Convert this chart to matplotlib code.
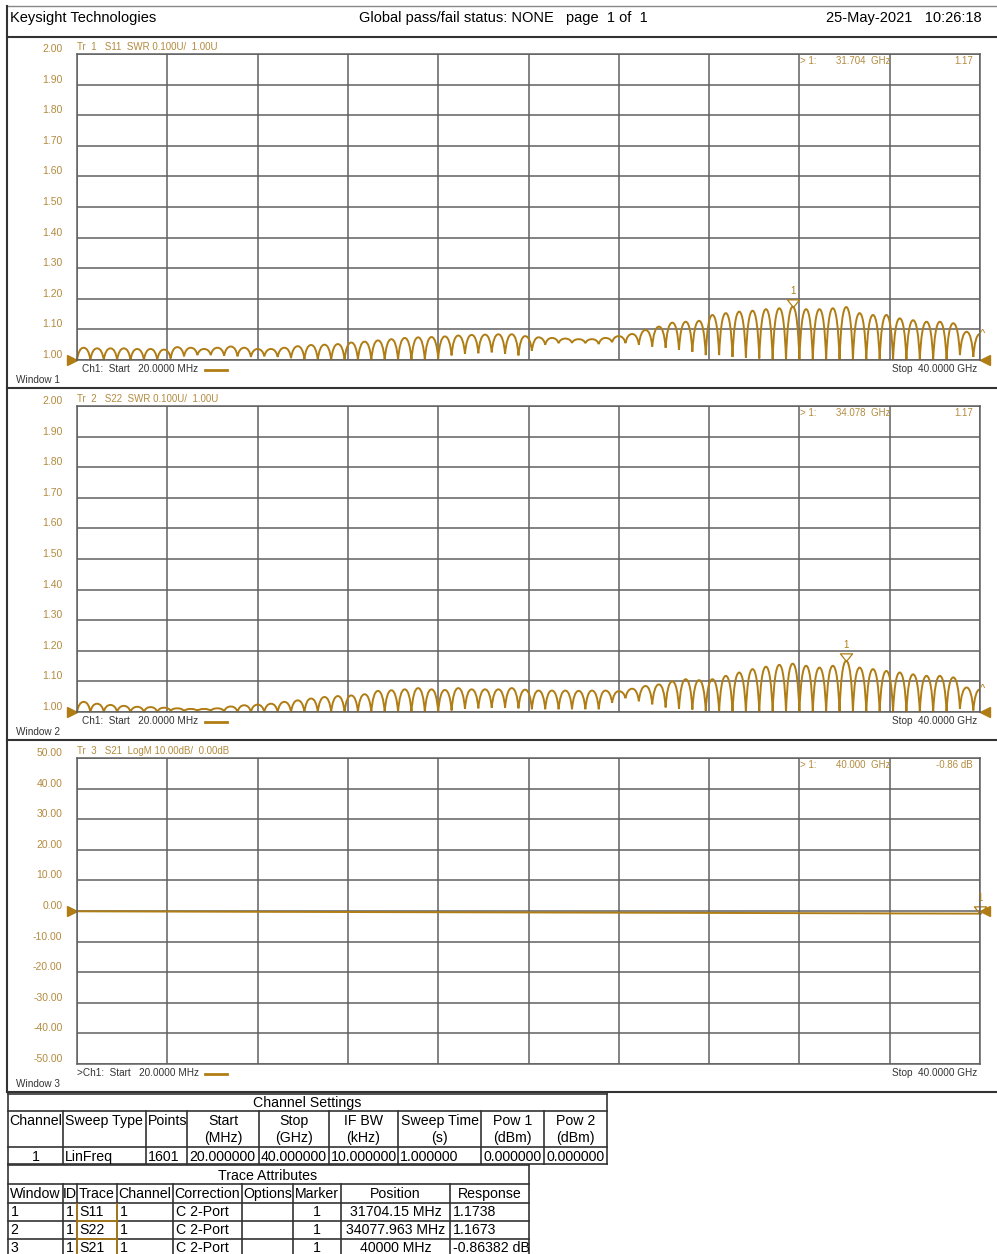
import numpy as np
import matplotlib
matplotlib.use('Agg')
import matplotlib.pyplot as plt
from matplotlib.path import Path
from matplotlib.patches import PathPatch

plt.rcParams['font.family'] = ['Liberation Sans', 'DejaVu Sans']

W, H = 997, 1254
TRACE = '#b07d14'
GOLD = '#b38b3e'
GRID = '#606060'
DARK = '#333333'
TFS = 10.2   # table font size

# sweep (GHz)
f_start = 0.02
f_stop = 40.0
n_lobes = 67.5   # ripple periods across the sweep

# Tr1 S11 SWR: peak and left null of each ripple lobe
s11_peak = [1.040, 1.038, 1.038, 1.038, 1.036, 1.036, 1.034,
            1.042, 1.040, 1.036, 1.040, 1.044, 1.040, 1.036,
            1.036, 1.040, 1.045, 1.049, 1.050, 1.052, 1.057,
            1.060, 1.064, 1.068, 1.072, 1.074, 1.075,
            1.077, 1.080, 1.082, 1.083, 1.084, 1.084, 1.078,
            1.074, 1.072, 1.070, 1.068, 1.068, 1.072, 1.078,
            1.085, 1.098, 1.109, 1.122, 1.125, 1.128,
            1.147, 1.153, 1.158, 1.161, 1.166, 1.169, 1.174,
            1.166, 1.166, 1.169, 1.173, 1.153, 1.147, 1.147,
            1.136, 1.130, 1.125, 1.125, 1.120, 1.092, 1.085]
s11_null = [1.000, 1.000, 1.000, 1.000, 1.000, 1.000, 1.000,
            1.005, 1.012, 1.016, 1.016, 1.014, 1.012, 1.010,
            1.012, 1.010, 1.006, 1.003, 1.000, 1.000, 1.000,
            1.000, 1.000, 1.000, 1.000, 1.000, 1.000,
            1.005, 1.015, 1.020, 1.022, 1.025, 1.020, 1.015,
            1.030, 1.050, 1.055, 1.056, 1.055, 1.052, 1.058,
            1.055, 1.050, 1.044, 1.040, 1.033, 1.027,
            1.016, 1.016, 1.010, 1.008, 1.005, 1.000, 1.000,
            1.000, 1.000, 1.000, 1.000, 1.000, 1.000, 1.000,
            1.000, 1.000, 1.000, 1.000, 1.000, 1.016, 1.010]

# Tr2 S22 SWR
s22_peak = [1.033, 1.027, 1.023, 1.020, 1.017, 1.016, 1.014,
            1.012, 1.010, 1.010, 1.012, 1.018, 1.022, 1.024,
            1.027, 1.033, 1.038, 1.044, 1.049, 1.052, 1.054,
            1.058, 1.069, 1.071, 1.074, 1.078, 1.074,
            1.072, 1.078, 1.074, 1.074, 1.074, 1.078, 1.073,
            1.070, 1.070, 1.070, 1.069, 1.070, 1.070, 1.068,
            1.076, 1.085, 1.090, 1.100, 1.107, 1.104,
            1.107, 1.118, 1.129, 1.140, 1.148, 1.154, 1.158,
            1.151, 1.145, 1.151, 1.167, 1.145, 1.140, 1.134,
            1.129, 1.123, 1.118, 1.118, 1.113, 1.080, 1.074]
s22_null = [1.000, 1.000, 1.000, 1.000, 1.000, 1.000, 1.000,
            1.004, 1.003, 1.004, 1.004, 1.002, 1.000, 1.000,
            1.000, 1.000, 1.000, 1.000, 1.000, 1.000, 1.000,
            1.000, 1.000, 1.000, 1.000, 1.000, 1.000,
            1.000, 1.005, 1.010, 1.012, 1.014, 1.014, 1.012,
            1.009, 1.009, 1.009, 1.009, 1.009, 1.009, 1.030,
            1.045, 1.035, 1.025, 1.015, 1.010, 1.008,
            1.004, 1.002, 1.000, 1.000, 1.000, 1.000, 1.000,
            1.000, 1.000, 1.000, 1.000, 1.000, 1.000, 1.000,
            1.000, 1.000, 1.000, 1.000, 1.000, 1.010, 1.005]

# Tr3 S21 LogM (dB)
s21_freq = [0.02, 4, 8, 12, 16, 20, 24, 28, 32, 36, 40]
s21_db = [-0.10, -0.18, -0.26, -0.33, -0.40, -0.47, -0.54, -0.62, -0.70, -0.78, -0.86]

# markers (GHz, value)
s11_mk = (31.70415, 1.1738)
s22_mk = (34.077963, 1.1673)
s21_mk = (40.0, -0.86382)

titles = ['Tr  1   S11  SWR 0.100U/  1.00U',
          'Tr  2   S22  SWR 0.100U/  1.00U',
          'Tr  3   S21  LogM 10.00dB/  0.00dB']
readouts = [('31.704  GHz', '1.17'), ('34.078  GHz', '1.17'), ('40.000  GHz', '-0.86 dB')]

channel_cols = ['Channel', 'Sweep Type', 'Points', 'Start\n(MHz)', 'Stop\n(GHz)',
                'IF BW\n(kHz)', 'Sweep Time\n(s)', 'Pow 1\n(dBm)', 'Pow 2\n(dBm)']
channel_row = ['1', 'LinFreq', '1601', '20.000000', '40.000000', '10.000000',
               '1.000000', '0.000000', '0.000000']
trace_cols = ['Window', 'ID', 'Trace', 'Channel', 'Correction', 'Options',
              'Marker', 'Position', 'Response']
trace_rows = [['1', '1', 'S11', '1', 'C 2-Port', '', '1', '31704.15 MHz', '1.1738'],
              ['2', '1', 'S22', '1', 'C 2-Port', '', '1', '34077.963 MHz', '1.1673'],
              ['3', '1', 'S21', '1', 'C 2-Port', '', '1', '40000 MHz', '-0.86382 dB']]


def px_rect(x0, y0, x1, y1):
    return [x0 / W, 1 - y1 / H, (x1 - x0) / W, (y1 - y0) / H]


def ripple_path(peaks, nulls):
    step = (f_stop - f_start) / n_lobes
    verts = [(f_start, nulls[0])]
    codes = [Path.MOVETO]
    for k in range(len(peaks)):
        pk, nl = peaks[k], nulls[k]
        x0 = f_start + k * step
        xp = x0 + step / 2
        verts += [(x0 + 0.08 * step, nl + 0.6 * (pk - nl)), (xp - 0.26 * step, pk), (xp, pk)]
        codes += [Path.CURVE4] * 3
        if k + 1 < len(peaks):
            nx = nulls[k + 1]
            x1 = x0 + step
            verts += [(xp + 0.26 * step, pk), (x1 - 0.08 * step, nx + 0.6 * (pk - nx)), (x1, nx)]
            codes += [Path.CURVE4] * 3
    return Path(verts, codes)


def setup_window(top, ylo, yhi, yticks, fmt, title):
    ax = fig.add_axes(px_rect(77, top, 980, top + 306))
    ax.set_xlim(f_start, f_stop)
    ax.set_ylim(ylo, yhi)
    ax.set_xticks(np.linspace(f_start, f_stop, 11))
    ax.set_xticklabels([])
    ax.set_yticks(yticks)
    ax.set_yticklabels([fmt % v for v in yticks], color=GOLD, fontsize=7.5)
    for lbl in ax.get_yticklabels():
        lbl.set_va('bottom')
    ax.tick_params(length=0, pad=10.5)
    ax.grid(True, color=GRID, lw=1.1)
    ax.set_axisbelow(True)
    for s in ax.spines.values():
        s.set_color(GRID)
        s.set_linewidth(1.1)
    ax.text(0, 1.008, title, transform=ax.transAxes, color=GOLD, fontsize=7, va='bottom')
    return ax


def ref_arrows(ax, yref):
    tr = ax.get_yaxis_transform()
    ax.plot([-0.005], [yref], marker='>', ms=7, color=TRACE, transform=tr, clip_on=False)
    ax.plot([1.006], [yref], marker='<', ms=7, color=TRACE, transform=tr, clip_on=False)


def marker_tri(ax, f, v):
    tri = [(0, 0), (-0.8, 1.0), (0.8, 1.0), (0, 0)]
    ax.plot([f], [v], marker=tri, ms=11, mfc='none', mec=TRACE, mew=0.9, clip_on=False)
    ax.annotate('1', (f, v), xytext=(0, 7.5), textcoords='offset points', ha='center',
                va='bottom', color=TRACE, fontsize=7, annotation_clip=False)


fig = plt.figure(figsize=(W / 100, H / 100), dpi=100)

swr_ticks = np.round(np.arange(1.0, 2.0001, 0.1), 2)
db_ticks = np.arange(-50, 51, 10)

ax1 = setup_window(54, 1.0, 2.0, swr_ticks, '%.2f', titles[0])
ax1.add_patch(PathPatch(ripple_path(s11_peak, s11_null), fill=False, ec=TRACE, lw=1.4, clip_on=False))
ref_arrows(ax1, 1.0)
marker_tri(ax1, *s11_mk)
ax1.text(f_stop, s11_peak[-1], '^', color=TRACE, fontsize=8, ha='left', va='center')

ax2 = setup_window(406, 1.0, 2.0, swr_ticks, '%.2f', titles[1])
ax2.add_patch(PathPatch(ripple_path(s22_peak, s22_null), fill=False, ec=TRACE, lw=1.4, clip_on=False))
ref_arrows(ax2, 1.0)
marker_tri(ax2, *s22_mk)
ax2.text(f_stop, s22_peak[-1], '^', color=TRACE, fontsize=8, ha='left', va='center')

ax3 = setup_window(758, -50, 50, db_ticks, '%.2f', titles[2])
ax3.plot(s21_freq, s21_db, color=TRACE, lw=1.4)
ref_arrows(ax3, 0.0)
marker_tri(ax3, *s21_mk)

# overlay in pixel coordinates: frame, annotations, tables
ov = fig.add_axes([0, 0, 1, 1], zorder=10)
ov.set_xlim(0, W)
ov.set_ylim(H, 0)
ov.axis('off')
ov.patch.set_visible(False)

ov.plot([7, W], [6, 6], color='#888888', lw=1.0)
ov.plot([7, 7], [6, 1092], color=DARK, lw=1.5)
for yy in [37, 388, 740, 1092]:
    ov.plot([7, W], [yy, yy], color=DARK, lw=1.5)

ov.text(10, 18, 'Keysight Technologies', fontsize=10.5, va='center')
ov.text(359, 18, 'Global pass/fail status: NONE', fontsize=10.5, va='center')
ov.text(566, 18, 'page  1 of  1', fontsize=10.5, va='center')
ov.text(982, 18, '25-May-2021   10:26:18', fontsize=10.5, va='center', ha='right')

for i, oy in enumerate([0, 352, 704]):
    start_txt = '>Ch1:  Start   20.0000 MHz' if i == 2 else 'Ch1:  Start   20.0000 MHz'
    sx = 77 if i == 2 else 82
    ov.text(sx, 369 + oy, start_txt, fontsize=7.2, color=DARK, va='center')
    ov.plot([205, 227], [369.5 + oy, 369.5 + oy], color=TRACE, lw=2)
    ov.text(977, 369 + oy, 'Stop  40.0000 GHz', fontsize=7.2, color=DARK, va='center', ha='right')
    ov.text(16, 380 + oy, 'Window %d' % (i + 1), fontsize=7.2, color=DARK, va='center')
    ov.text(800, 61 + oy, '> 1:', fontsize=7, color=GOLD, va='center')
    ov.text(836, 61 + oy, readouts[i][0], fontsize=7, color=GOLD, va='center')
    ov.text(973, 61 + oy, readouts[i][1], fontsize=7, color=GOLD, va='center', ha='right')

# Channel Settings table
cx = [8, 63, 146, 187, 259, 329, 398, 481, 544, 607]
for yy in [1094, 1111, 1147, 1164]:
    ov.plot([8, 607], [yy, yy], color=DARK, lw=1.2)
ov.plot([8, 8], [1094, 1164], color=DARK, lw=1.2)
ov.plot([607, 607], [1094, 1164], color=DARK, lw=1.2)
for x in cx[1:-1]:
    ov.plot([x, x], [1111, 1164], color=DARK, lw=1.2)
ov.text(307, 1103, 'Channel Settings', fontsize=TFS, ha='center', va='center')
for j, name in enumerate(channel_cols):
    parts = name.split('\n')
    if len(parts) == 1:
        ov.text(cx[j] + 1.5, 1121, name, fontsize=TFS, va='center')
    else:
        mid = (cx[j] + cx[j + 1]) / 2
        ov.text(mid, 1121, parts[0], fontsize=TFS, va='center', ha='center')
        ov.text(mid, 1138, parts[1], fontsize=TFS, va='center', ha='center')
for j, val in enumerate(channel_row):
    if j == 0:
        ov.text((cx[0] + cx[1]) / 2, 1157, val, fontsize=TFS, va='center', ha='center')
    else:
        ov.text(cx[j] + 2, 1157, val, fontsize=TFS, va='center')

# Trace Attributes table
tx = [8, 63, 77, 117, 173, 242, 293, 341, 450, 529]
for yy in [1165, 1184, 1203, 1221, 1239]:
    ov.plot([8, 529], [yy, yy], color=DARK, lw=1.2)
ov.plot([8, 8], [1165, H], color=DARK, lw=1.2)
ov.plot([529, 529], [1165, H], color=DARK, lw=1.2)
for x in tx[1:-1]:
    ov.plot([x, x], [1184, H], color=DARK, lw=1.2)
for x in [77, 117]:
    ov.plot([x, x], [1204, H], color=TRACE, lw=1.2)
for yy in [1221, 1239]:
    ov.plot([78, 116], [yy, yy], color=TRACE, lw=1.2)
ov.text(268, 1176, 'Trace Attributes', fontsize=TFS, ha='center', va='center')
for j, name in enumerate(trace_cols):
    ov.text((tx[j] + tx[j + 1]) / 2, 1194, name, fontsize=TFS, ha='center', va='center')
for r, row in enumerate(trace_rows):
    yy = 1212 + 18 * r
    for j, val in enumerate(row):
        if j in (1, 6, 7):
            ov.text((tx[j] + tx[j + 1]) / 2, yy, val, fontsize=TFS, ha='center', va='center')
        else:
            ov.text(tx[j] + 2.5, yy, val, fontsize=TFS, va='center')

fig.savefig('out.png', dpi=100)
